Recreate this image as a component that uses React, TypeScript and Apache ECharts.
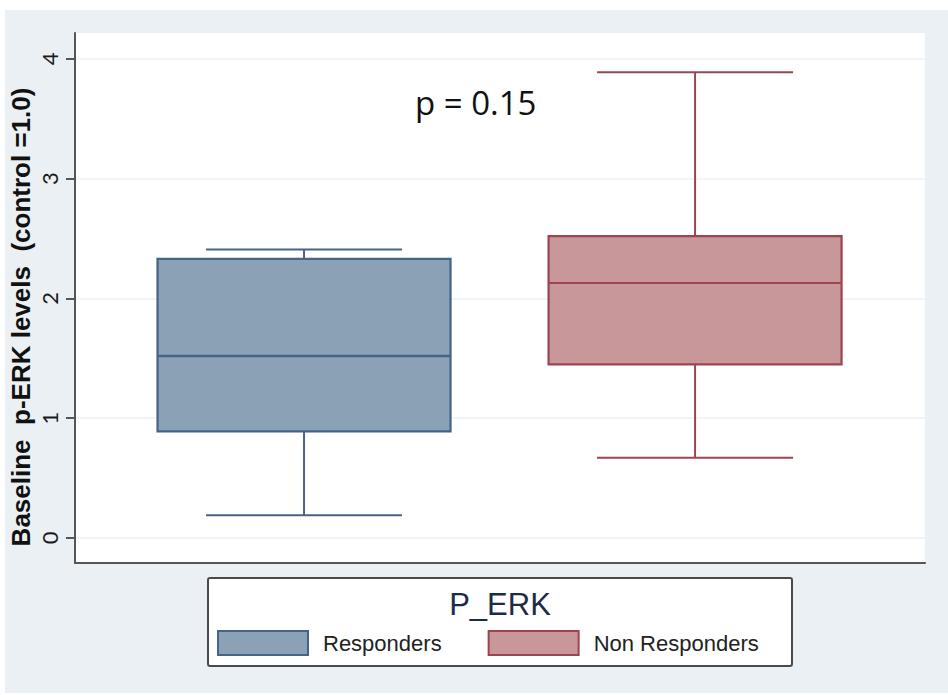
import React, { useEffect, useRef } from "react";
import * as echarts from "echarts";

const groups = ["Responders", "Non Responders"];
const groupPos = [1, 2];
const minVals = [0.19, 0.67];
const q1Vals = [0.89, 1.45];
const medianVals = [1.52, 2.13];
const q3Vals = [2.33, 2.52];
const maxVals = [2.41, 3.89];
const yTicks = [0, 1, 2, 3, 4];
const fills = ["#8ba1b6", "#c79799"];
const strokes = ["#456487", "#9e4450"];
const yTitle = "Baseline\u00a0\u00a0p-ERK levels\u00a0\u00a0(control =1.0)";
const legendTitle = "P_ERK";
const pText = "p = 0.15";

export default function App() {
  const ref = useRef<HTMLDivElement>(null);
  useEffect(() => {
    if (!ref.current) return;
    const chart = echarts.init(ref.current, null, { renderer: "svg" });

    const renderItem = (params: any, api: any) => {
      const i = params.seriesIndex;
      const x = api.value(0);
      const pMin = api.coord([x, api.value(1)]);
      const pQ1 = api.coord([x, api.value(2)]);
      const pMed = api.coord([x, api.value(3)]);
      const pQ3 = api.coord([x, api.value(4)]);
      const pMax = api.coord([x, api.value(5)]);
      const cx = pMed[0];
      const boxHalf = 146.5;
      const capHalf = 98;
      const st = { stroke: strokes[i], lineWidth: 2, fill: "none" };
      return {
        type: "group",
        children: [
          { type: "line", shape: { x1: cx, y1: pQ1[1], x2: cx, y2: pMin[1] }, style: st },
          { type: "line", shape: { x1: cx, y1: pQ3[1], x2: cx, y2: pMax[1] }, style: st },
          { type: "line", shape: { x1: cx - capHalf, y1: pMin[1], x2: cx + capHalf, y2: pMin[1] }, style: st },
          { type: "line", shape: { x1: cx - capHalf, y1: pMax[1], x2: cx + capHalf, y2: pMax[1] }, style: st },
          {
            type: "rect",
            shape: { x: cx - boxHalf, y: pQ3[1], width: boxHalf * 2, height: pQ1[1] - pQ3[1] },
            style: { fill: fills[i], stroke: strokes[i], lineWidth: 2.2 },
          },
          {
            type: "line",
            shape: { x1: cx - boxHalf, y1: pMed[1], x2: cx + boxHalf, y2: pMed[1] },
            style: { stroke: strokes[i], lineWidth: i === 0 ? 2.6 : 2, fill: "none" },
          },
        ],
      };
    };

    const series = groups.map((g, i) => ({
      name: g,
      type: "custom",
      renderItem,
      encode: { x: 0, y: [1, 2, 3, 4, 5] },
      itemStyle: { color: fills[i], borderColor: strokes[i], borderWidth: 2 },
      data: [[groupPos[i], minVals[i], q1Vals[i], medianVals[i], q3Vals[i], maxVals[i]]],
    }));

    chart.setOption({
      animation: false,
      backgroundColor: "transparent",
      grid: {
        left: 75,
        right: 23,
        top: 33,
        bottom: 132,
        show: true,
        backgroundColor: "#ffffff",
        borderWidth: 0,
      },
      xAxis: {
        type: "value",
        min: 0.4143,
        max: 2.588,
        axisLine: { show: true, onZero: false, lineStyle: { color: "#555", width: 2 } },
        axisTick: { show: false },
        axisLabel: { show: false },
        splitLine: { show: false },
      },
      yAxis: {
        type: "value",
        min: -0.209,
        max: 4.217,
        axisLine: { show: true, onZero: false, lineStyle: { color: "#555", width: 2 } },
        axisTick: {
          show: true,
          length: 9,
          customValues: yTicks,
          lineStyle: { color: "#555", width: 2 },
        },
        axisLabel: {
          customValues: yTicks,
          rotate: 90,
          margin: 15,
          fontFamily: "Lato",
          fontSize: 22,
          color: "#1a1a1a",
        },
        splitLine: { show: true, lineStyle: { color: "#edf2f4", width: 1.5 } },
      },
      legend: {
        left: 217,
        top: 630,
        itemWidth: 90,
        itemHeight: 24,
        itemGap: 46,
        padding: 0,
        selectedMode: false,
        textStyle: {
          fontFamily: "Liberation Sans",
          fontSize: 22,
          color: "#222",
          padding: [0, 0, 0, 10],
        },
        data: groups.map((g, i) => ({
          name: g,
          icon: "rect",
          itemStyle: { color: fills[i], borderColor: strokes[i], borderWidth: 2 },
        })),
      },
      graphic: [
        {
          type: "rect",
          z: -100,
          silent: true,
          shape: { x: 5, y: 10, width: 943, height: 683 },
          style: { fill: "#eaf0f3" },
        },
        {
          type: "rect",
          z: -50,
          silent: true,
          shape: { x: 208, y: 578, width: 584, height: 88, r: 2 },
          style: { fill: "#ffffff", stroke: "#4a4a4a", lineWidth: 2 },
        },
        {
          type: "text",
          x: 500,
          y: 604,
          style: {
            text: legendTitle,
            font: "31px 'Liberation Sans'",
            fill: "#1c2b4a",
            textAlign: "center",
            textVerticalAlign: "middle",
          },
        },
        {
          type: "text",
          x: 21,
          y: 317,
          rotation: Math.PI / 2,
          style: {
            text: yTitle,
            font: "bold 26px 'Liberation Sans'",
            fill: "#111",
            textAlign: "center",
            textVerticalAlign: "middle",
          },
        },
        {
          type: "text",
          x: 415,
          y: 102,
          z: 10,
          style: {
            text: pText,
            font: "33px 'Open Sans'",
            fill: "#111",
            textAlign: "left",
            textVerticalAlign: "middle",
          },
        },
      ],
      series,
    });
    return () => chart.dispose();
  }, []);
  return (
    <div
      ref={ref}
      style={{ position: "absolute", left: 0, top: 0, width: 948, height: 695, background: "#ffffff" }}
    />
  );
}
